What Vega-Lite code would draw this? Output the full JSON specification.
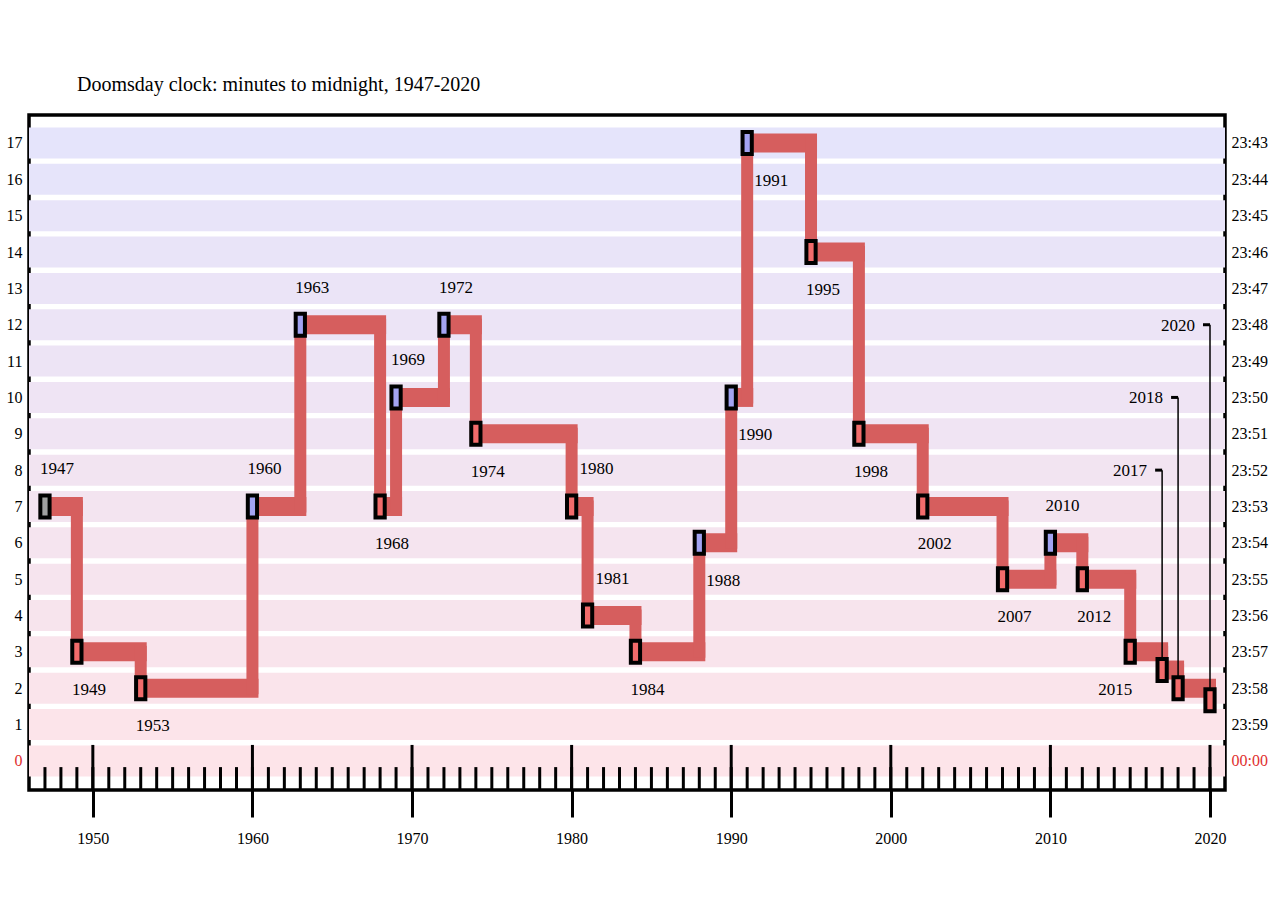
{
  "$schema": "https://vega.github.io/schema/vega-lite/v6.json",
  "width": 1196,
  "height": 675,
  "autosize": {"type": "none"},
  "padding": {"left": 29, "top": 115, "right": 55, "bottom": 125},
  "background": "white",
  "title": {
    "text": "Doomsday clock: minutes to midnight, 1947-2020",
    "anchor": "start",
    "frame": "group",
    "font": "Liberation Serif",
    "fontSize": 20,
    "fontWeight": "normal",
    "color": "black",
    "dx": 48,
    "baseline": "alphabetic",
    "offset": 4
  },
  "config": {
    "view": {"stroke": "black", "strokeWidth": 3.5},
    "font": "Liberation Serif"
  },
  "datasets": {
    "clock": [
      {"year": 1947, "minutes": 7, "change": "start", "place": "above"},
      {"year": 1949, "minutes": 3, "change": "down", "place": "below"},
      {"year": 1953, "minutes": 2, "change": "down", "place": "below"},
      {"year": 1960, "minutes": 7, "change": "up", "place": "above"},
      {"year": 1963, "minutes": 12, "change": "up", "place": "above"},
      {"year": 1968, "minutes": 7, "change": "down", "place": "below"},
      {"year": 1969, "minutes": 10, "change": "up", "place": "above"},
      {"year": 1972, "minutes": 12, "change": "up", "place": "above"},
      {"year": 1974, "minutes": 9, "change": "down", "place": "below"},
      {"year": 1980, "minutes": 7, "change": "down", "place": "aboveRight"},
      {"year": 1981, "minutes": 4, "change": "down", "place": "aboveRight"},
      {"year": 1984, "minutes": 3, "change": "down", "place": "below"},
      {"year": 1988, "minutes": 6, "change": "up", "place": "belowRight"},
      {"year": 1990, "minutes": 10, "change": "up", "place": "belowRight"},
      {"year": 1991, "minutes": 17, "change": "up", "place": "belowRight"},
      {"year": 1995, "minutes": 14, "change": "down", "place": "below"},
      {"year": 1998, "minutes": 9, "change": "down", "place": "below"},
      {"year": 2002, "minutes": 7, "change": "down", "place": "below"},
      {"year": 2007, "minutes": 5, "change": "down", "place": "below"},
      {"year": 2010, "minutes": 6, "change": "up", "place": "above"},
      {"year": 2012, "minutes": 5, "change": "down", "place": "below"},
      {"year": 2015, "minutes": 3, "change": "down", "place": "belowLeft"},
      {"year": 2017, "minutes": 2.5, "change": "down", "place": "leader", "labelMin": 8},
      {"year": 2018, "minutes": 2, "change": "down", "place": "leader", "labelMin": 10},
      {"year": 2020, "minutes": 1.6667, "change": "down", "place": "leader", "labelMin": 12}
    ],
    "bands": [
      {"band": 0}, {"band": 1}, {"band": 2}, {"band": 3}, {"band": 4}, {"band": 5},
      {"band": 6}, {"band": 7}, {"band": 8}, {"band": 9}, {"band": 10}, {"band": 11},
      {"band": 12}, {"band": 13}, {"band": 14}, {"band": 15}, {"band": 16}, {"band": 17}
    ],
    "years": [
      {"year": 1947}, {"year": 1948}, {"year": 1949}, {"year": 1950}, {"year": 1951}, {"year": 1952},
      {"year": 1953}, {"year": 1954}, {"year": 1955}, {"year": 1956}, {"year": 1957}, {"year": 1958},
      {"year": 1959}, {"year": 1960}, {"year": 1961}, {"year": 1962}, {"year": 1963}, {"year": 1964},
      {"year": 1965}, {"year": 1966}, {"year": 1967}, {"year": 1968}, {"year": 1969}, {"year": 1970},
      {"year": 1971}, {"year": 1972}, {"year": 1973}, {"year": 1974}, {"year": 1975}, {"year": 1976},
      {"year": 1977}, {"year": 1978}, {"year": 1979}, {"year": 1980}, {"year": 1981}, {"year": 1982},
      {"year": 1983}, {"year": 1984}, {"year": 1985}, {"year": 1986}, {"year": 1987}, {"year": 1988},
      {"year": 1989}, {"year": 1990}, {"year": 1991}, {"year": 1992}, {"year": 1993}, {"year": 1994},
      {"year": 1995}, {"year": 1996}, {"year": 1997}, {"year": 1998}, {"year": 1999}, {"year": 2000},
      {"year": 2001}, {"year": 2002}, {"year": 2003}, {"year": 2004}, {"year": 2005}, {"year": 2006},
      {"year": 2007}, {"year": 2008}, {"year": 2009}, {"year": 2010}, {"year": 2011}, {"year": 2012},
      {"year": 2013}, {"year": 2014}, {"year": 2015}, {"year": 2016}, {"year": 2017}, {"year": 2018},
      {"year": 2019}, {"year": 2020}
    ]
  },
  "resolve": {"axis": {"y": "independent"}},
  "layer": [
    {
      "data": {"name": "bands"},
      "mark": {"type": "rule", "strokeWidth": 31},
      "encoding": {
        "y": {
          "field": "band", "type": "quantitative",
          "scale": {"domain": [-0.8, 17.77], "nice": false, "zero": false},
          "axis": {
            "orient": "left", "values": [0,1,2,3,4,5,6,7,8,9,10,11,12,13,14,15,16,17],
            "title": null, "domain": false, "ticks": false, "grid": false,
            "labelFont": "Liberation Serif", "labelFontSize": 16, "labelPadding": 7,
            "labelColor": {"expr": "datum.value === 0 ? '#e0302e' : 'black'"}
          }
        },
        "stroke": {
          "field": "band", "type": "quantitative",
          "scale": {"domain": [0, 17], "range": ["#fde4e9", "#e5e4fb"], "interpolate": "rgb"},
          "legend": null
        }
      }
    },
    {
      "mark": {"type": "rule", "strokeWidth": 12, "color": "#fde4e9"},
      "encoding": {
        "y": {"datum": -0.6, "type": "quantitative", "scale": {"domain": [-0.8, 17.77], "nice": false, "zero": false}, "axis": null}
      }
    },
    {
      "data": {"name": "bands"},
      "mark": {"type": "rule", "opacity": 0},
      "encoding": {
        "y": {
          "field": "band", "type": "quantitative",
          "scale": {"domain": [-0.8, 17.77], "nice": false, "zero": false},
          "axis": {
            "orient": "right", "values": [0,1,2,3,4,5,6,7,8,9,10,11,12,13,14,15,16,17],
            "title": null, "domain": false, "ticks": false, "grid": false,
            "labelFont": "Liberation Serif", "labelFontSize": 16, "labelPadding": 6,
            "labelExpr": "datum.value === 0 ? '00:00' : '23:' + (60 - datum.value)",
            "labelColor": {"expr": "datum.value === 0 ? '#e0302e' : 'black'"}
          }
        }
      }
    },
    {
      "data": {"name": "years"},
      "mark": {"type": "rule", "strokeWidth": 3, "color": "black"},
      "encoding": {
        "x": {
          "field": "year", "type": "quantitative",
          "scale": {"domain": [1946, 2020.94], "nice": false, "zero": false},
          "axis": {
            "values": [1950, 1960, 1970, 1980, 1990, 2000, 2010, 2020],
            "format": "d", "title": null, "domain": false, "grid": false,
            "tickSize": 27, "tickWidth": 3, "tickColor": "black",
            "labelFont": "Liberation Serif", "labelFontSize": 16, "labelPadding": 13, "labelColor": "black"
          }
        },
        "y": {"datum": -0.8, "type": "quantitative", "scale": {"domain": [-0.8, 17.77], "nice": false, "zero": false}, "axis": null},
        "y2": {"datum": -0.17}
      }
    },
    {
      "data": {"name": "years"},
      "transform": [{"filter": "datum.year % 10 === 0"}],
      "mark": {"type": "rule", "strokeWidth": 3, "color": "black"},
      "encoding": {
        "x": {"field": "year", "type": "quantitative", "scale": {"domain": [1946, 2020.94], "nice": false, "zero": false}},
        "y": {"datum": -0.8, "type": "quantitative", "scale": {"domain": [-0.8, 17.77], "nice": false, "zero": false}, "axis": null},
        "y2": {"datum": 0.44}
      }
    },
    {
      "mark": {"type": "rule", "strokeWidth": 5, "color": "black"},
      "encoding": {
        "y": {"datum": 17.77, "type": "quantitative", "scale": {"domain": [-0.8, 17.77], "nice": false, "zero": false}, "axis": null}
      }
    },
    {
      "mark": {"type": "rule", "strokeWidth": 6, "color": "black"},
      "encoding": {
        "y": {"datum": -0.8, "type": "quantitative", "scale": {"domain": [-0.8, 17.77], "nice": false, "zero": false}, "axis": null}
      }
    },
    {
      "data": {"name": "clock"},
      "transform": [
        {"window": [{"op": "lead", "field": "year", "as": "nextYear"}, {"op": "lead", "field": "minutes", "as": "nextMin"}], "sort": [{"field": "year", "order": "ascending"}]},
        {"filter": "datum.nextYear != null"}
      ],
      "mark": {"type": "rule", "strokeWidth": 19, "color": "#d65e5e", "strokeCap": "butt", "x2Offset": 6},
      "encoding": {
        "x": {"field": "year", "type": "quantitative", "scale": {"domain": [1946, 2020.94], "nice": false, "zero": false}},
        "x2": {"field": "nextYear"},
        "y": {"field": "minutes", "type": "quantitative", "scale": {"domain": [-0.8, 17.77], "nice": false, "zero": false}, "axis": null}
      }
    },
    {
      "data": {"name": "clock"},
      "transform": [
        {"window": [{"op": "lead", "field": "year", "as": "nextYear"}, {"op": "lead", "field": "minutes", "as": "nextMin"}], "sort": [{"field": "year", "order": "ascending"}]},
        {"filter": "datum.nextYear != null"}
      ],
      "mark": {"type": "rule", "strokeWidth": 12, "color": "#d65e5e", "strokeCap": "square"},
      "encoding": {
        "x": {"field": "nextYear", "type": "quantitative", "scale": {"domain": [1946, 2020.94], "nice": false, "zero": false}},
        "y": {"field": "minutes", "type": "quantitative", "scale": {"domain": [-0.8, 17.77], "nice": false, "zero": false}, "axis": null},
        "y2": {"field": "nextMin"}
      }
    },
    {
      "data": {"name": "clock"},
      "transform": [{"filter": "datum.place === 'leader'"}],
      "mark": {"type": "rule", "strokeWidth": 1.5, "color": "black"},
      "encoding": {
        "x": {"field": "year", "type": "quantitative", "scale": {"domain": [1946, 2020.94], "nice": false, "zero": false}},
        "y": {"field": "labelMin", "type": "quantitative", "scale": {"domain": [-0.8, 17.77], "nice": false, "zero": false}, "axis": null},
        "y2": {"field": "minutes"}
      }
    },
    {
      "data": {"name": "clock"},
      "transform": [{"filter": "datum.place === 'leader'"}],
      "mark": {"type": "rule", "strokeWidth": 3, "color": "black", "xOffset": -7},
      "encoding": {
        "x": {"field": "year", "type": "quantitative", "scale": {"domain": [1946, 2020.94], "nice": false, "zero": false}},
        "x2": {"field": "year"},
        "y": {"field": "labelMin", "type": "quantitative", "scale": {"domain": [-0.8, 17.77], "nice": false, "zero": false}, "axis": null}
      }
    },
    {
      "data": {"name": "clock"},
      "mark": {"type": "point", "shape": "M-0.42,-1H0.42V1H-0.42Z", "size": 484, "filled": true, "opacity": 1, "stroke": "black", "strokeWidth": 4},
      "encoding": {
        "x": {"field": "year", "type": "quantitative", "scale": {"domain": [1946, 2020.94], "nice": false, "zero": false}},
        "y": {"field": "minutes", "type": "quantitative", "scale": {"domain": [-0.8, 17.77], "nice": false, "zero": false}, "axis": null},
        "fill": {
          "field": "change", "type": "nominal",
          "scale": {"domain": ["start", "up", "down"], "range": ["#a0a0a0", "#a3a3f2", "#f26b6b"]},
          "legend": null
        }
      }
    },
    {
      "data": {"name": "clock"},
      "transform": [{"filter": "datum.place === 'above'"}],
      "mark": {"type": "text", "font": "Liberation Serif", "fontSize": 17, "color": "black", "align": "center", "baseline": "middle", "dx": 12, "dy": -37},
      "encoding": {
        "x": {"field": "year", "type": "quantitative", "scale": {"domain": [1946, 2020.94], "nice": false, "zero": false}},
        "y": {"field": "minutes", "type": "quantitative", "scale": {"domain": [-0.8, 17.77], "nice": false, "zero": false}, "axis": null},
        "text": {"field": "year", "type": "nominal"}
      }
    },
    {
      "data": {"name": "clock"},
      "transform": [{"filter": "datum.place === 'below'"}],
      "mark": {"type": "text", "font": "Liberation Serif", "fontSize": 17, "color": "black", "align": "center", "baseline": "middle", "dx": 12, "dy": 38},
      "encoding": {
        "x": {"field": "year", "type": "quantitative", "scale": {"domain": [1946, 2020.94], "nice": false, "zero": false}},
        "y": {"field": "minutes", "type": "quantitative", "scale": {"domain": [-0.8, 17.77], "nice": false, "zero": false}, "axis": null},
        "text": {"field": "year", "type": "nominal"}
      }
    },
    {
      "data": {"name": "clock"},
      "transform": [{"filter": "datum.place === 'aboveRight'"}],
      "mark": {"type": "text", "font": "Liberation Serif", "fontSize": 17, "color": "black", "align": "center", "baseline": "middle", "dx": 25, "dy": -37},
      "encoding": {
        "x": {"field": "year", "type": "quantitative", "scale": {"domain": [1946, 2020.94], "nice": false, "zero": false}},
        "y": {"field": "minutes", "type": "quantitative", "scale": {"domain": [-0.8, 17.77], "nice": false, "zero": false}, "axis": null},
        "text": {"field": "year", "type": "nominal"}
      }
    },
    {
      "data": {"name": "clock"},
      "transform": [{"filter": "datum.place === 'belowRight'"}],
      "mark": {"type": "text", "font": "Liberation Serif", "fontSize": 17, "color": "black", "align": "center", "baseline": "middle", "dx": 24, "dy": 38},
      "encoding": {
        "x": {"field": "year", "type": "quantitative", "scale": {"domain": [1946, 2020.94], "nice": false, "zero": false}},
        "y": {"field": "minutes", "type": "quantitative", "scale": {"domain": [-0.8, 17.77], "nice": false, "zero": false}, "axis": null},
        "text": {"field": "year", "type": "nominal"}
      }
    },
    {
      "data": {"name": "clock"},
      "transform": [{"filter": "datum.place === 'belowLeft'"}],
      "mark": {"type": "text", "font": "Liberation Serif", "fontSize": 17, "color": "black", "align": "center", "baseline": "middle", "dx": -15, "dy": 38},
      "encoding": {
        "x": {"field": "year", "type": "quantitative", "scale": {"domain": [1946, 2020.94], "nice": false, "zero": false}},
        "y": {"field": "minutes", "type": "quantitative", "scale": {"domain": [-0.8, 17.77], "nice": false, "zero": false}, "axis": null},
        "text": {"field": "year", "type": "nominal"}
      }
    },
    {
      "data": {"name": "clock"},
      "transform": [{"filter": "datum.place === 'leader'"}],
      "mark": {"type": "text", "font": "Liberation Serif", "fontSize": 17, "color": "black", "align": "right", "baseline": "middle", "dx": -15, "dy": 1},
      "encoding": {
        "x": {"field": "year", "type": "quantitative", "scale": {"domain": [1946, 2020.94], "nice": false, "zero": false}},
        "y": {"field": "labelMin", "type": "quantitative", "scale": {"domain": [-0.8, 17.77], "nice": false, "zero": false}, "axis": null},
        "text": {"field": "year", "type": "nominal"}
      }
    }
  ]
}
